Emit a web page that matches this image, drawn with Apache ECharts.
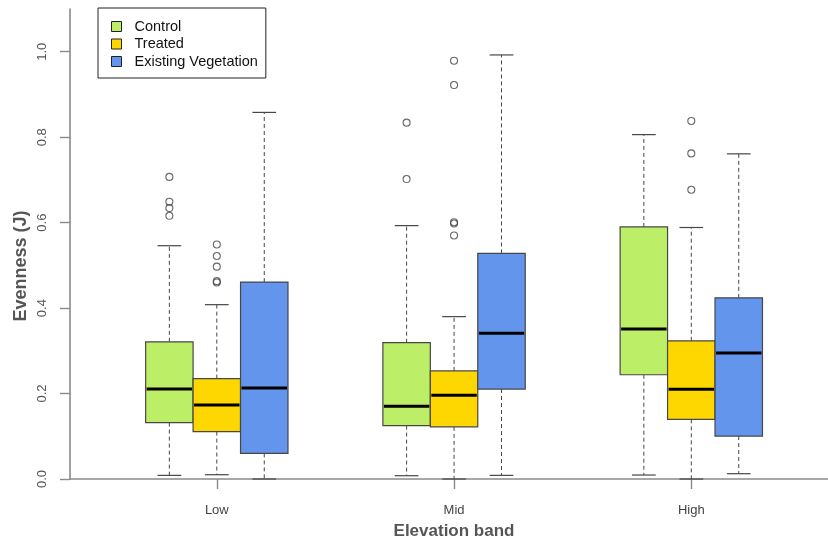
<!DOCTYPE html>
<html>
<head>
<meta charset="utf-8">
<title>Evenness by elevation band</title>
<script src="https://cdn.jsdelivr.net/npm/echarts@6/dist/echarts.min.js"></script>
<style>
  html, body { margin: 0; padding: 0; background: #fff; }
  #chart { width: 828px; height: 545px; }
</style>
</head>
<body>
<div id="chart"></div>
<script>
// Elevation bands along the x axis
const categories = ['Low', 'Mid', 'High'];
const seriesNames = ['Control', 'Treated', 'Existing Vegetation'];

// Five-number summaries per band: [lower whisker, Q1, median, Q3, upper whisker]
const controlStats = [
  [0.0085, 0.132, 0.2105, 0.321, 0.546],
  [0.0077, 0.125, 0.170, 0.319, 0.593],
  [0.0093, 0.244, 0.351, 0.590, 0.806]
];
const treatedStats = [
  [0.010, 0.111, 0.173, 0.235, 0.408],
  [0.0, 0.122, 0.196, 0.253, 0.380],
  [0.0, 0.1395, 0.210, 0.3235, 0.5886]
];
const existingStats = [
  [0.0, 0.060, 0.213, 0.461, 0.858],
  [0.0085, 0.2105, 0.341, 0.528, 0.9925],
  [0.0124, 0.1005, 0.2947, 0.424, 0.761]
];

// Outlying points per band
const controlOutliers = [[0.707, 0.649, 0.634, 0.616], [0.834, 0.702], []];
const treatedOutliers = [[0.549, 0.522, 0.497, 0.463, 0.460], [0.979, 0.922, 0.601, 0.598, 0.570], [0.838, 0.762, 0.677]];
const existingOutliers = [[], [], []];

// Y axis tick values
const yTicks = [0, 0.2, 0.4, 0.6, 0.8, 1.0];

const fills = ['#BCEE68', '#FFD700', '#6495ED'];
const FONT = '"Liberation Sans", Arial, Helvetica, sans-serif';

// Box positions: each band is centred on a multiple of 5, boxes one unit apart
const groupCentres = categories.map((_, i) => 5 + 5 * i);
const statsBySeries = [controlStats, treatedStats, existingStats];
const outliersBySeries = [controlOutliers, treatedOutliers, existingOutliers];

function boxData(stats, offset) {
  return stats.map((s, i) => [groupCentres[i] + offset].concat(s));
}

function renderBox(params, api) {
  const x = api.value(0);
  const lo = api.coord([x, api.value(1)]);
  const q1 = api.coord([x, api.value(2)]);
  const med = api.coord([x, api.value(3)]);
  const q3 = api.coord([x, api.value(4)]);
  const hi = api.coord([x, api.value(5)]);
  const w = api.size([1, 0])[0];
  const cx = lo[0];
  const half = w / 2;
  const cap = w / 4;
  const edge = '#474747';
  return {
    type: 'group',
    children: [
      { type: 'line', shape: { x1: cx, y1: q3[1], x2: cx, y2: hi[1] },
        style: { stroke: edge, lineWidth: 1, lineDash: [4, 3] } },
      { type: 'line', shape: { x1: cx, y1: q1[1], x2: cx, y2: lo[1] },
        style: { stroke: edge, lineWidth: 1, lineDash: [4, 3] } },
      { type: 'line', shape: { x1: cx - cap, y1: hi[1], x2: cx + cap, y2: hi[1] },
        style: { stroke: edge, lineWidth: 1.2 } },
      { type: 'line', shape: { x1: cx - cap, y1: lo[1], x2: cx + cap, y2: lo[1] },
        style: { stroke: edge, lineWidth: 1.2 } },
      { type: 'rect', shape: { x: cx - half, y: q3[1], width: w, height: q1[1] - q3[1] },
        style: { fill: api.visual('color'), stroke: edge, lineWidth: 1.2 } },
      { type: 'line', shape: { x1: cx - half + 1, y1: med[1], x2: cx + half - 1, y2: med[1] },
        style: { stroke: '#000', lineWidth: 3 } }
    ]
  };
}

const outlierData = [];
outliersBySeries.forEach((groups, s) => {
  groups.forEach((vals, g) => {
    vals.forEach(v => outlierData.push([groupCentres[g] + s - 1, v]));
  });
});

const series = seriesNames.map((name, s) => ({
  name: name,
  type: 'custom',
  renderItem: renderBox,
  itemStyle: { color: fills[s] },
  encode: { x: 0, y: [1, 2, 3, 4, 5] },
  data: boxData(statsBySeries[s], s - 1),
  z: 2
}));
series.push({
  name: 'outliers',
  type: 'scatter',
  symbol: 'circle',
  symbolSize: 7,
  itemStyle: { color: 'rgba(0,0,0,0)', borderColor: '#444', borderWidth: 1.1 },
  data: outlierData,
  z: 3,
  silent: true
});

const chart = echarts.init(document.getElementById('chart'), null, { renderer: 'canvas' });
chart.setOption({
  animation: false,
  backgroundColor: '#fff',
  textStyle: { fontFamily: FONT },
  grid: { left: 70, right: 0, top: 9, bottom: 65.7 },
  legend: {
    data: seriesNames,
    orient: 'vertical',
    left: 98,
    top: 8,
    padding: [10.5, 8, 8.5, 13],
    itemGap: 1.5,
    itemWidth: 10,
    itemHeight: 10,
    icon: 'rect',
    borderColor: '#222',
    borderWidth: 1,
    borderRadius: 0,
    itemStyle: { borderColor: '#222', borderWidth: 1 },
    textStyle: { fontFamily: FONT, fontSize: 14.5, color: '#111', lineHeight: 16, padding: [0, 0, 0, 8] }
  },
  xAxis: {
    type: 'value',
    min: 1.906,
    max: 17.881,
    name: 'Elevation band',
    nameLocation: 'middle',
    nameGap: 44,
    nameMoveOverlap: false,
    nameTextStyle: { fontFamily: FONT, fontSize: 17, fontWeight: 'bold', color: '#555', padding: [0, 0, 0, 10] },
    splitLine: { show: false },
    axisLine: { show: true, onZero: false, lineStyle: { color: '#8a8a8a', width: 1.6 } },
    axisTick: { show: true, length: 10, customValues: groupCentres, lineStyle: { color: '#8a8a8a', width: 1.4 } },
    axisLabel: {
      customValues: groupCentres,
      formatter: v => categories[groupCentres.indexOf(v)] || '',
      margin: 25, fontSize: 13, color: '#444', fontFamily: FONT
    }
  },
  yAxis: {
    type: 'value',
    min: 0,
    max: 1.1,
    name: 'Evenness (J)',
    nameLocation: 'middle',
    nameGap: 40,
    nameMoveOverlap: false,
    nameTextStyle: { fontFamily: FONT, fontSize: 18, fontWeight: 'bold', color: '#555', padding: [0, 44, 0, 0] },
    splitLine: { show: false },
    axisLine: { show: true, lineStyle: { color: '#8a8a8a', width: 1.6 } },
    axisTick: { show: true, length: 10, customValues: yTicks, lineStyle: { color: '#8a8a8a', width: 1.4 } },
    axisLabel: {
      customValues: yTicks,
      formatter: v => v.toFixed(1),
      rotate: 90,
      margin: 21, fontSize: 13, color: '#555', fontFamily: FONT
    }
  },
  series: series
});
</script>
</body>
</html>
